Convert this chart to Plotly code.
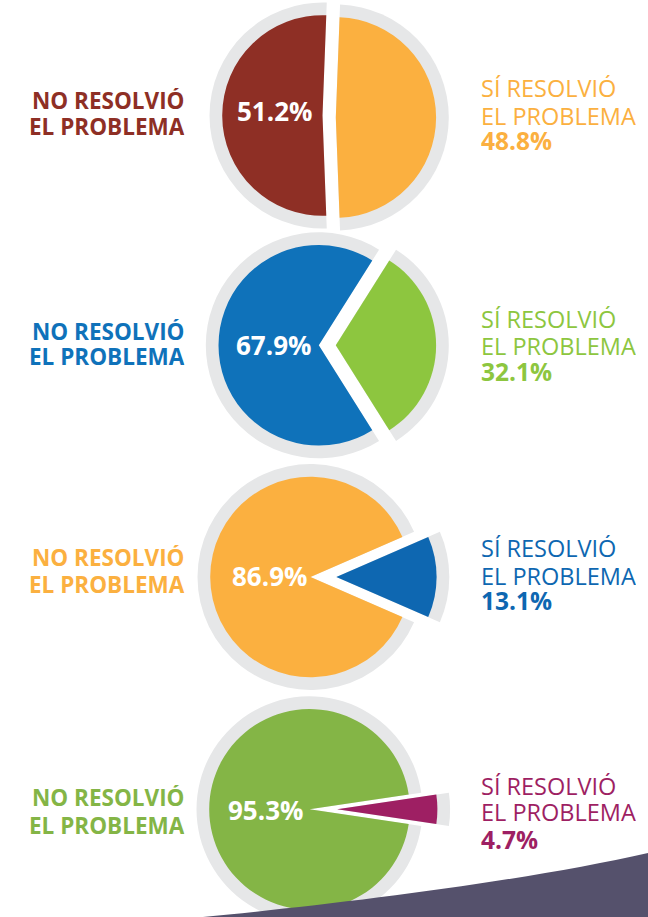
import plotly.graph_objects as go

# ---------------- data ----------------
no_resolvio = [51.2, 67.9, 86.9, 95.3]
si_resolvio = [48.8, 32.1, 13.1, 4.7]
label_no = ["NO RESOLVIÓ", "EL PROBLEMA"]
label_si = ["SÍ RESOLVIÓ", "EL PROBLEMA"]

# ---------------- style ----------------
W, H = 648, 930          # canvas a bit taller than the 917px window (bottom is cropped)
color_no = ["#8E2F25", "#0F72BA", "#FBB040", "#84B546"]
color_si = ["#FBB040", "#8DC63F", "#0E67B1", "#9E1F63"]
GREY = "#E6E7E8"
CLEAR = "rgba(0,0,0,0)"
FONT = "Open Sans"

# layout geometry (pixels from top-left)
centers = [(322.5, 115.5), (318.8, 345.3), (310.5, 577.0), (309.5, 809.3)]
offsets = [(13.3, 2.0), (17.0, 0.0), (25.8, 0.0), (27.6, 0.0)]
R_GREY, R_COL = 113.0, 100.3
left_lines_y = [(100.5, 126.0), (331.0, 357.0), (557.0, 584.0), (797.0, 825.0)]
right_lines_y = [(87.5, 115.0, 139.5), (318.0, 345.0, 371.0), (547.0, 575.0, 599.5), (785.0, 811.0, 839.0)]
pct_pos = [(311.0, 111.0), (310.0, 345.0), (306.0, 576.0), (302.0, 809.5)]


def dom(cx, cy, r):
    cy = min(max(cy, r), H - r)
    return dict(x=[(cx - r) / W, (cx + r) / W], y=[1 - (cy + r) / H, 1 - (cy - r) / H])


fig = go.Figure()
for i in range(4):
    si, no = si_resolvio[i], no_resolvio[i]
    rot = 90 - 180 * si / 100.0
    cx, cy = centers[i]
    dx, dy = offsets[i]
    for rad, cols_no, cols_si in [(R_GREY, GREY, GREY), (R_COL, color_no[i], color_si[i])]:
        # "no" slice
        fig.add_trace(go.Pie(values=[si, no], labels=["Sí resolvió", "No resolvió"],
                             sort=False, direction="clockwise", rotation=rot,
                             marker=dict(colors=[CLEAR, cols_no], line=dict(width=0)),
                             textinfo="none", hoverinfo="skip", showlegend=False,
                             domain=dom(cx, cy, rad)))
        # "sí" slice (pulled out)
        fig.add_trace(go.Pie(values=[si, no], labels=["Sí resolvió", "No resolvió"],
                             sort=False, direction="clockwise", rotation=rot,
                             marker=dict(colors=[cols_si, CLEAR], line=dict(width=0)),
                             textinfo="none", hoverinfo="skip", showlegend=False,
                             domain=dom(cx + dx, cy + dy, rad)))


def ann(x, y, text, anchor, size, color, weight, h=None):
    d = dict(x=x / W, y=1 - y / H, xref="paper", yref="paper", text=text, showarrow=False,
             xanchor=anchor, yanchor="middle", borderpad=0, borderwidth=0,
             font=dict(family=FONT, size=size, color=color, weight=weight))
    if h is not None:
        d["height"] = h
    return d


annotations = []
for i in range(4):
    for txt, yy in zip(label_no, left_lines_y[i]):
        annotations.append(ann(185, yy, txt, "right", 22.5, color_no[i], 700, 25))
    ys = right_lines_y[i]
    for txt, yy in zip(label_si, ys[:2]):
        annotations.append(ann(481, yy, txt, "left", 23.5, color_si[i], 400, 25))
    annotations.append(ann(481, ys[2], f"{si_resolvio[i]:.1f}%", "left", 24.5, color_si[i], 700, 24))
    px_, py_ = pct_pos[i]
    annotations.append(ann(px_ + 1, py_, f"{no_resolvio[i]:.1f}%", "right", 26, "white", 700))


def P(x, y):
    return f"{x / W:.5f},{1 - y / H:.5f}"


swoosh = ("M " + P(190, 930) + " L " + P(203, 917) + " C " + P(330, 905) + " " + P(520, 882)
          + " " + P(648, 853) + " L " + P(648, 930) + " Z")

fig.update_layout(
    width=W, height=H,
    margin=dict(l=0, r=0, t=0, b=0),
    paper_bgcolor="white", plot_bgcolor="white",
    annotations=annotations,
    shapes=[dict(type="path", xref="paper", yref="paper", path=swoosh,
                 fillcolor="#55516C", line=dict(width=0), layer="above")],
)

fig.write_html("out.html", config={"displayModeBar": False},
               post_script="document.body.style.margin='0px';document.body.style.overflow='hidden';")
